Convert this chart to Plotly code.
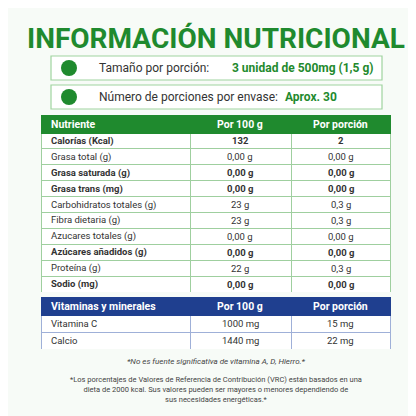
import plotly.graph_objects as go

nutrientes = ["Calorías (Kcal)", "Grasa total (g)", "Grasa saturada (g)", "Grasa trans (mg)",
              "Carbohidratos totales (g)", "Fibra dietaria (g)", "Azucares totales (g)",
              "Azúcares añadidos (g)", "Proteína (g)", "Sodio (mg)"]
bold = [True, False, True, True, False, False, False, True, False, True]
por_100g = ["132", "0,00 g", "0,00 g", "0,00 g", "23 g", "23 g", "0,00 g", "0,00 g", "22 g", "0,00 g"]
por_porcion = ["2", "0,00 g", "0,00 g", "0,00 g", "0,3 g", "0,3 g", "0,00 g", "0,00 g", "0,3 g", "0,00 g"]
cabecera = ["Nutriente", "Por 100 g", "Por porción"]

vitaminas = ["Vitamina C", "Calcio"]
vit_100g = ["1000 mg", "1440 mg"]
vit_porcion = ["15 mg", "22 mg"]
cabecera_vit = ["Vitaminas y minerales", "Por 100 g", "Por porción"]

GREEN = "#1f8a2e"
BLUE = "#1f3f8f"
W = 416
COLW = [149, 101, 99]
X0 = 33
HEAD = 18

def py(px):
    return 1 - px / W

fig = go.Figure()
annotations = []

def tabla(top, rowh, head_color, line_color, heads, cols, bolds):
    n = len(cols[0])
    bottom = top + HEAD + n * rowh
    fig.add_trace(go.Table(
        domain=dict(x=[X0 / W, (X0 + sum(COLW)) / W], y=[py(bottom), py(top)]),
        columnwidth=COLW,
        header=dict(values=["", "", ""], fill_color=head_color, line_color=head_color, height=HEAD),
        cells=dict(values=[[""] * n] * 3, fill_color="white", line_color=line_color, height=rowh),
    ))
    xs = [X0 + 8, X0 + COLW[0] + COLW[1] / 2, X0 + COLW[0] + COLW[1] + COLW[2] / 2]
    anchors = ["left", "center", "center"]
    for j in range(3):
        annotations.append(dict(text=f"<b>{heads[j]}</b>", x=xs[j] / W, y=py(top + HEAD / 2),
                                xanchor=anchors[j], font=dict(size=10.5, color="white")))
        for i in range(n):
            t = cols[j][i]
            if bolds[i]:
                t = f"<b>{t}</b>"
            annotations.append(dict(text=t, x=xs[j] / W, y=py(top + HEAD + rowh * (i + 0.5)),
                                    xanchor=anchors[j], font=dict(size=9.5, color="#333")))

tabla(107, 15.9, GREEN, "#9fcf9f", cabecera, [nutrientes, por_100g, por_porcion], bold)
tabla(289, 17, BLUE, "#9fb0d8", cabecera_vit, [vitaminas, vit_100g, vit_porcion], [False, False])

shapes = []
for y0, y1 in [(48, 72), (77, 101)]:
    shapes.append(dict(type="rect", xref="paper", yref="paper", x0=43 / W, x1=374 / W,
                       y0=py(y1), y1=py(y0), line=dict(color="#9fd49f", width=1.2),
                       fillcolor="white", layer="below"))
    yc = (y0 + y1) / 2
    shapes.append(dict(type="circle", xref="paper", yref="paper", x0=53 / W, x1=69 / W,
                       y0=py(yc + 8), y1=py(yc - 8), line=dict(width=0), fillcolor=GREEN))

annotations += [
    dict(text="<b>INFORMACIÓN NUTRICIONAL</b>", x=0.5, y=py(31), xanchor="center",
         font=dict(size=28, color=GREEN)),
    dict(text="Tamaño por porción:", x=89 / W, y=py(60), xanchor="left",
         font=dict(size=12, color="#333")),
    dict(text="<b>3 unidad de 500mg (1,5 g)</b>", x=367 / W, y=py(60), xanchor="right",
         font=dict(size=12, color=GREEN)),
    dict(text="Número de porciones por envase:", x=89 / W, y=py(89), xanchor="left",
         font=dict(size=12, color="#333")),
    dict(text="<b>Aprox. 30</b>", x=275 / W, y=py(89), xanchor="left",
         font=dict(size=12, color=GREEN)),
    dict(text="<i>*No es fuente significativa de vitamina A, D, Hierro.*</i>", x=0.5, y=py(353),
         xanchor="center", font=dict(size=8, color="#444")),
    dict(text="*Los porcentajes de Valores de Referencia de Contribución (VRC) están basados en una<br>"
              "dieta de 2000 kcal. Sus valores pueden ser mayores o menores dependiendo de<br>"
              "sus necesidades energéticas.*",
         x=0.5, y=py(381), xanchor="center", font=dict(size=7.5, color="#444")),
]
for a in annotations:
    a.update(xref="paper", yref="paper", yanchor="middle", showarrow=False)
    a["font"]["family"] = "Roboto"

fig.update_layout(width=416, height=416, margin=dict(l=0, r=0, t=0, b=0),
                  paper_bgcolor="#f7fbf7", plot_bgcolor="#f7fbf7",
                  shapes=shapes, annotations=annotations)

fig.write_html("out.html")
